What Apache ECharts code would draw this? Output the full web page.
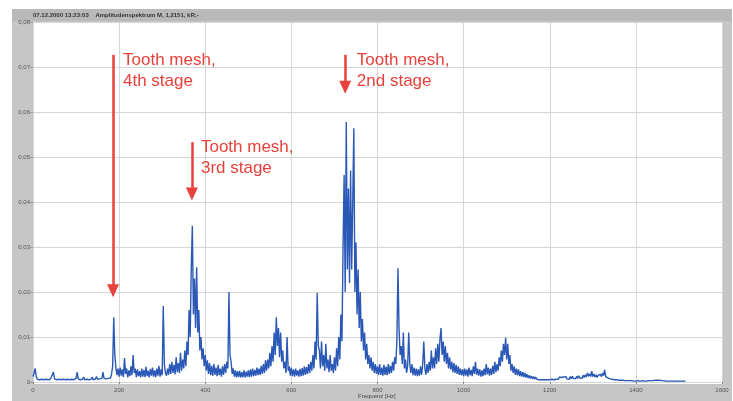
<!DOCTYPE html>
<html><head><meta charset="utf-8">
<script src="https://cdn.jsdelivr.net/npm/echarts@6.0.0/dist/echarts.min.js"></script>
<style>html,body{margin:0;padding:0;background:#fff}#c{width:733px;height:401px}</style>
</head><body><div id="c"></div><script>
// Spectrum: one amplitude per 2.5 Hz bin, starting at 0 Hz
const binHz = 2.5;
const amp0 = [ // 0 - 97.5 Hz
  0.0012,0.0020,0.0030,0.0012,0.0006,0.0010,0.0005,0.0009,0.0006,0.0010,
  0.0005,0.0009,0.0006,0.0010,0.0005,0.0008,0.0006,0.0011,0.0008,0.0022,
  0.0007,0.0010,0.0005,0.0009,0.0006,0.0010,0.0005,0.0008,0.0006,0.0010,
  0.0005,0.0009,0.0006,0.0010,0.0005,0.0009,0.0006,0.0010,0.0005,0.0009];
const amp1 = [ // 100 - 197.5 Hz
  0.0008,0.0022,0.0007,0.0010,0.0005,0.0009,0.0006,0.0011,0.0005,0.0009,
  0.0006,0.0010,0.0005,0.0009,0.0006,0.0011,0.0005,0.0009,0.0007,0.0012,
  0.0006,0.0010,0.0007,0.0011,0.0008,0.0022,0.0008,0.0012,0.0007,0.0011,
  0.0008,0.0012,0.0009,0.0018,0.0035,0.0144,0.0060,0.0032,0.0015,0.0030];
const amp2 = [ // 200 - 297.5 Hz
  0.0012,0.0032,0.0014,0.0028,0.0011,0.0053,0.0018,0.0030,0.0010,0.0026,
  0.0013,0.0035,0.0015,0.0060,0.0020,0.0030,0.0011,0.0028,0.0013,0.0024,
  0.0010,0.0030,0.0012,0.0027,0.0011,0.0034,0.0013,0.0025,0.0010,0.0029,
  0.0014,0.0032,0.0012,0.0026,0.0011,0.0030,0.0014,0.0036,0.0012,0.0028];
const amp3 = [ // 300 - 397.5 Hz
  0.0015,0.0169,0.0040,0.0020,0.0014,0.0030,0.0016,0.0040,0.0018,0.0045,
  0.0020,0.0038,0.0017,0.0055,0.0022,0.0042,0.0020,0.0065,0.0025,0.0050,
  0.0030,0.0070,0.0035,0.0090,0.0060,0.0160,0.0100,0.0250,0.0347,0.0150,
  0.0230,0.0120,0.0255,0.0110,0.0160,0.0070,0.0100,0.0050,0.0075,0.0035];
const amp4 = [ // 400 - 497.5 Hz
  0.0060,0.0025,0.0048,0.0018,0.0042,0.0015,0.0036,0.0014,0.0040,0.0016,
  0.0032,0.0013,0.0038,0.0015,0.0030,0.0012,0.0035,0.0016,0.0040,0.0020,
  0.0045,0.0030,0.0200,0.0060,0.0045,0.0018,0.0030,0.0012,0.0026,0.0010,
  0.0024,0.0011,0.0025,0.0010,0.0022,0.0011,0.0026,0.0010,0.0023,0.0012];
const amp5 = [ // 500 - 597.5 Hz
  0.0026,0.0011,0.0028,0.0012,0.0030,0.0013,0.0027,0.0014,0.0032,0.0015,
  0.0030,0.0016,0.0036,0.0018,0.0040,0.0020,0.0048,0.0025,0.0050,0.0030,
  0.0065,0.0035,0.0080,0.0045,0.0110,0.0060,0.0144,0.0080,0.0120,0.0055,
  0.0110,0.0045,0.0070,0.0030,0.0045,0.0020,0.0100,0.0025,0.0035,0.0014];
const amp6 = [ // 600 - 697.5 Hz
  0.0032,0.0013,0.0028,0.0012,0.0030,0.0014,0.0026,0.0012,0.0029,0.0013,
  0.0031,0.0014,0.0035,0.0016,0.0033,0.0018,0.0040,0.0020,0.0045,0.0025,
  0.0060,0.0030,0.0090,0.0050,0.0198,0.0080,0.0070,0.0030,0.0090,0.0035,
  0.0060,0.0025,0.0085,0.0030,0.0050,0.0022,0.0060,0.0025,0.0040,0.0020];
const amp7 = [ // 700 - 797.5 Hz
  0.0055,0.0025,0.0075,0.0035,0.0100,0.0050,0.0150,0.0090,0.0300,0.0460,
  0.0200,0.0578,0.0250,0.0430,0.0220,0.0470,0.0250,0.0400,0.0564,0.0200,
  0.0310,0.0150,0.0250,0.0120,0.0200,0.0090,0.0140,0.0070,0.0110,0.0050,
  0.0085,0.0040,0.0060,0.0030,0.0055,0.0025,0.0045,0.0020,0.0040,0.0018];
const amp8 = [ // 800 - 897.5 Hz
  0.0035,0.0015,0.0040,0.0016,0.0032,0.0014,0.0038,0.0016,0.0034,0.0015,
  0.0040,0.0018,0.0036,0.0020,0.0045,0.0025,0.0055,0.0040,0.0090,0.0253,
  0.0120,0.0060,0.0080,0.0040,0.0110,0.0030,0.0050,0.0020,0.0035,0.0110,
  0.0040,0.0020,0.0040,0.0015,0.0032,0.0014,0.0030,0.0013,0.0028,0.0014];
const amp9 = [ // 900 - 997.5 Hz
  0.0035,0.0016,0.0040,0.0090,0.0030,0.0016,0.0040,0.0020,0.0045,0.0025,
  0.0070,0.0030,0.0055,0.0030,0.0075,0.0040,0.0085,0.0045,0.0095,0.0120,
  0.0060,0.0090,0.0045,0.0080,0.0040,0.0065,0.0030,0.0055,0.0028,0.0045,
  0.0022,0.0042,0.0020,0.0038,0.0018,0.0035,0.0016,0.0030,0.0015,0.0028];
const amp10 = [ // 1000 - 1097.5 Hz
  0.0013,0.0030,0.0014,0.0028,0.0012,0.0032,0.0015,0.0027,0.0013,0.0035,
  0.0018,0.0045,0.0016,0.0030,0.0014,0.0028,0.0012,0.0026,0.0013,0.0030,
  0.0015,0.0040,0.0017,0.0032,0.0014,0.0030,0.0016,0.0036,0.0018,0.0045,
  0.0022,0.0040,0.0025,0.0055,0.0035,0.0070,0.0045,0.0085,0.0060,0.0098];
const amp11 = [ // 1100 - 1197.5 Hz
  0.0050,0.0085,0.0040,0.0060,0.0025,0.0040,0.0020,0.0035,0.0016,0.0030,
  0.0015,0.0028,0.0013,0.0024,0.0012,0.0022,0.0011,0.0020,0.0010,0.0017,
  0.0009,0.0015,0.0008,0.0013,0.0007,0.0012,0.0006,0.0011,0.0006,0.0010,
  0.0005,0.0009,0.0005,0.0009,0.0005,0.0008,0.0005,0.0009,0.0005,0.0008];
const amp12 = [ // 1200 - 1297.5 Hz
  0.0005,0.0009,0.0006,0.0010,0.0005,0.0009,0.0006,0.0010,0.0006,0.0011,
  0.0007,0.0010,0.0006,0.0011,0.0007,0.0012,0.0007,0.0011,0.0006,0.0012,
  0.0007,0.0013,0.0008,0.0012,0.0007,0.0013,0.0008,0.0014,0.0009,0.0013,
  0.0008,0.0015,0.0010,0.0016,0.0011,0.0020,0.0013,0.0018,0.0012,0.0024];
const amp13 = [ // 1300 - 1397.5 Hz
  0.0012,0.0018,0.0011,0.0016,0.0010,0.0015,0.0011,0.0017,0.0012,0.0020,
  0.0014,0.0027,0.0012,0.0016,0.0009,0.0012,0.0007,0.0010,0.0006,0.0009,
  0.0005,0.0008,0.0005,0.0007,0.0004,0.0007,0.0004,0.0006,0.0004,0.0006,
  0.0003,0.0005,0.0003,0.0005,0.0003,0.0004,0.0003,0.0004,0.0002,0.0004];
const amp14 = [ // 1400 - 1497.5 Hz
  0.0002,0.0004,0.0003,0.0004,0.0002,0.0004,0.0003,0.0004,0.0002,0.0003,
  0.0002,0.0004,0.0003,0.0004,0.0003,0.0005,0.0003,0.0006,0.0004,0.0007,
  0.0004,0.0007,0.0004,0.0006,0.0003,0.0005,0.0003,0.0004,0.0002,0.0004,
  0.0002,0.0003,0.0002,0.0003,0.0002,0.0003,0.0002,0.0003,0.0002,0.0002];
const amp15 = [ // 1500 - 1515 Hz
  0.0002,0.0003,0.0002,0.0002,0.0002,0.0002,0.0002];
const amplitude = [].concat(amp0, amp1, amp2, amp3, amp4, amp5, amp6, amp7,
  amp8, amp9, amp10, amp11, amp12, amp13, amp14, amp15);

const xTickLabels = ['0','200','400','600','800','1000','1200','1400','1600'];
const yTickLabels = ['0','0,01','0,02','0,03','0,04','0,05','0,06','0,07','0,08'];
const titleText = '07.12.2000 13:23:03    Amplitudenspektrum M, 1,2151, kR;-';
const xAxisName = 'Frequenz [Hz]';
// annotations: arrow frequency, arrow start/end amplitude, text anchor
const annLabels = ['Tooth mesh,\n4th stage', 'Tooth mesh,\n3rd stage', 'Tooth mesh,\n2nd stage'];
const annFreq   = [186, 369, 725];
const annFrom   = [0.0727, 0.0533, 0.0727];
const annTo     = [0.0203, 0.0418, 0.0655];
const annTextF  = [209, 390, 752];
const annTextV  = [0.0738, 0.0544, 0.0738];

const series = amplitude.map((v, i) => [i * binHz, v]);
const red = '#e8403a';

const staticGraphics = [
  {id: 'frame', type: 'rect', shape: {x: 12, y: 9, width: 720, height: 392}, style: {fill: '#c6c6c6'}, z: -10, silent: true},
  {id: 'titlebar', type: 'rect', shape: {x: 12, y: 9, width: 720, height: 12}, style: {fill: '#b9b9b9'}, z: -9, silent: true},
  {id: 'plotbg', type: 'rect', shape: {x: 33, y: 22, width: 689, height: 362}, style: {fill: '#ffffff'}, z: -8, silent: true},
  {id: 'title', type: 'text', x: 33, y: 12, style: {text: titleText, fontSize: 6, fontWeight: 'bold', fill: '#333', fontFamily: 'Liberation Sans'}, z: 10},
  {id: 'xname', type: 'text', x: 358, y: 393, style: {text: xAxisName, fontSize: 6, fill: '#444', fontFamily: 'Liberation Sans'}, z: 10}
];

const chart = echarts.init(document.getElementById('c'), null, {renderer: 'canvas'});
chart.setOption({
  animation: false,
  backgroundColor: '#ffffff',
  grid: {left: 33, right: 11, top: 22, bottom: 19, show: false},
  xAxis: {
    type: 'value', min: 0, max: 1600, interval: 200,
    axisLine: {show: false},
    axisTick: {show: true, length: 2, lineStyle: {color: '#888'}},
    splitLine: {show: true, lineStyle: {color: '#d6d6d6', width: 1}},
    axisLabel: {fontSize: 6, color: '#555', margin: 5, fontFamily: 'Liberation Sans',
      formatter: (v) => xTickLabels[Math.round(v / 200)]}
  },
  yAxis: {
    type: 'value', min: 0, max: 0.08, interval: 0.01,
    axisLine: {show: false},
    axisTick: {show: true, length: 3, lineStyle: {color: '#999'}},
    splitLine: {show: true, lineStyle: {color: '#d6d6d6', width: 1}},
    axisLabel: {fontSize: 6, color: '#555', margin: 3, fontFamily: 'Liberation Sans',
      formatter: (v) => yTickLabels[Math.round(v / 0.01)]}
  },
  series: [{
    type: 'line', data: series, showSymbol: false, symbol: 'none',
    lineStyle: {color: '#2a58b6', width: 1.4}, z: 3,
    markLine: {
      silent: true, symbol: ['none', 'triangle'], symbolSize: [12, 13],
      label: {show: false},
      lineStyle: {color: red, width: 2.5, type: 'solid'},
      data: annFreq.map((f, i) => [{coord: [f, annFrom[i]]}, {coord: [f, annTo[i]]}])
    }
  }],
  graphic: staticGraphics
});

const annGraphics = annLabels.map((t, i) => {
  const p = chart.convertToPixel({gridIndex: 0}, [annTextF[i], annTextV[i]]);
  return {id: 'ann' + i, type: 'text', x: p[0], y: p[1], z: 20,
    style: {text: t, fontSize: 17, lineHeight: 21, fill: red, fontFamily: 'Liberation Sans', verticalAlign: 'top', align: 'left'}};
});
chart.setOption({graphic: staticGraphics.concat(annGraphics)});
</script></body></html>
